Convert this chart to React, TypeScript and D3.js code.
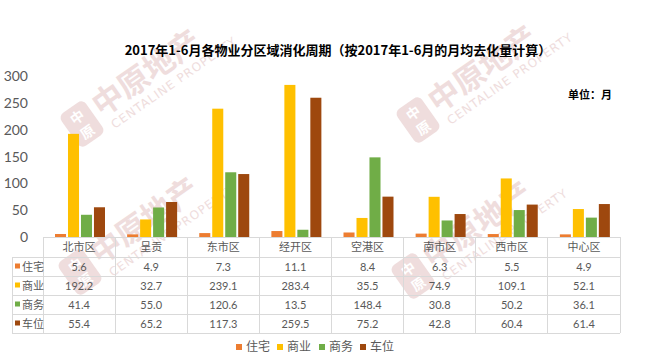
import React from "react";
import * as d3 from "d3";

const width = 647;
const height = 362;

const title = "2017年1-6月各物业分区域消化周期（按2017年1-6月的月均去化量计算）";
const unitLabel = "单位：月";
const categories = ["北市区", "呈贡", "东市区", "经开区", "空港区", "南市区", "西市区", "中心区"];
const seriesNames = ["住宅", "商业", "商务", "车位"];
const colors = ["#ED7D31", "#FFC000", "#70AD47", "#9E480E"];
const zhuzhai = [5.6, 4.9, 7.3, 11.1, 8.4, 6.3, 5.5, 4.9];
const shangye = [192.2, 32.7, 239.1, 283.4, 35.5, 74.9, 109.1, 52.1];
const shangwu = [41.4, 55.0, 120.6, 13.5, 148.4, 30.8, 50.2, 36.1];
const chewei = [55.4, 65.2, 117.3, 259.5, 75.2, 42.8, 60.4, 61.4];
const yTicks = [0, 50, 100, 150, 200, 250, 300];

const series = [zhuzhai, shangye, shangwu, chewei];

const numFont = "Lato, 'Noto Sans CJK SC', sans-serif";
const cjkFont = "'Noto Sans CJK SC', sans-serif";
const textColor = "#595959";
const lineColor = "#D9D9D9";

// watermark anchor points (logo centres)
const marks = [
  [82, 124],
  [418, 120],
  [80, 272],
  [413, 276],
];

function Watermark({ x, y }: { x: number; y: number }) {
  const c = "#E9CFCF";
  return (
    <g transform={`translate(${x},${y}) rotate(-35)`} opacity={0.7}>
      <rect x={-15} y={-20} width={30} height={40} rx={6} fill={c} />
      <text x={0} y={-3} textAnchor="middle" fontSize={14} fontWeight="bold" fill="#fff" fontFamily={cjkFont}>中</text>
      <text x={0} y={15} textAnchor="middle" fontSize={14} fontWeight="bold" fill="#fff" fontFamily={cjkFont}>原</text>
      <text x={20} y={6} fontSize={31} fontWeight="bold" fill={c} fontFamily={cjkFont}>中原地产</text>
      <text x={24} y={23} fontSize={12} fill={c} fontFamily="'DejaVu Sans', sans-serif" letterSpacing={1}>CENTALINE PROPERTY</text>
    </g>
  );
}

export default function App() {
  const y = d3.scaleLinear().domain([0, 300]).range([237, 76]);
  const x = d3.scaleBand().domain(categories).range([43, 620]);
  const xi = d3.scaleBand().domain(seriesNames).range([12, 62]).paddingInner(0.15);

  const tableTop = 237;
  const headRow = 20;
  const rowH = 19;
  const tableBottom = tableTop + headRow + rowH * 4;
  const colEdges = categories.map((c) => x(c) as number).concat([620]);

  return (
    <svg width={width} height={height} style={{ position: "absolute", left: 0, top: 0, background: "#fff" }}>
      <rect width={width} height={height} fill="#fff" />
      {marks.map((m, i) => (
        <Watermark key={i} x={m[0]} y={m[1]} />
      ))}

      <text x={338} y={55} textAnchor="middle" fontSize={13} fontWeight="bold" fill="#000" fontFamily={cjkFont}>
        {title}
      </text>
      <text x={612} y={99} textAnchor="end" fontSize={11} fontWeight="bold" fill="#000" fontFamily={cjkFont}>
        {unitLabel}
      </text>

      {yTicks.map((t) => (
        <text key={t} x={28} y={y(t) + 5} textAnchor="end" fontSize={14} fill={textColor} fontFamily={numFont}>
          {t}
        </text>
      ))}

      {series.map((vals, si) =>
        categories.map((c, ci) => (
          <rect
            key={si + "-" + ci}
            x={(x(c) as number) + (xi(seriesNames[si]) as number)}
            y={y(vals[ci])}
            width={xi.bandwidth()}
            height={y(0) - y(vals[ci])}
            fill={colors[si]}
          />
        ))
      )}

      {/* data table */}
      <g stroke={lineColor} strokeWidth={1} shapeRendering="crispEdges">
        <line x1={43} x2={620} y1={tableTop} y2={tableTop} />
        {d3.range(5).map((r) => {
          const yy = tableTop + headRow + r * rowH;
          return <line key={r} x1={12} x2={620} y1={yy} y2={yy} />;
        })}
        {colEdges.map((e, i) => (
          <line key={i} x1={e} x2={e} y1={tableTop} y2={tableBottom} />
        ))}
        <line x1={12} x2={12} y1={tableTop + headRow} y2={tableBottom} />
      </g>
      {categories.map((c) => (
        <text key={c} x={(x(c) as number) + x.bandwidth() / 2} y={tableTop + 14} textAnchor="middle" fontSize={11} fill={textColor} fontFamily={cjkFont}>
          {c}
        </text>
      ))}
      {series.map((vals, si) => {
        const cy = tableTop + headRow + si * rowH + rowH / 2;
        return (
          <g key={si}>
            <rect x={15} y={cy - 3} width={5} height={5} fill={colors[si]} />
            <text x={22} y={cy + 4} fontSize={11} fill={textColor} fontFamily={cjkFont}>
              {seriesNames[si]}
            </text>
            {vals.map((v, ci) => (
              <text key={ci} x={(x(categories[ci]) as number) + x.bandwidth() / 2} y={cy + 4} textAnchor="middle" fontSize={11} fill={textColor} fontFamily={numFont}>
                {v.toFixed(1)}
              </text>
            ))}
          </g>
        );
      })}

      {/* legend */}
      {seriesNames.map((s, i) => {
        const lx = [239, 280, 322, 363][i];
        return (
          <g key={s}>
            <rect x={lx - 3} y={344} width={6} height={6} fill={colors[i]} />
            <text x={lx + 7} y={351} fontSize={12} fill={textColor} fontFamily={cjkFont}>
              {s}
            </text>
          </g>
        );
      })}
    </svg>
  );
}
